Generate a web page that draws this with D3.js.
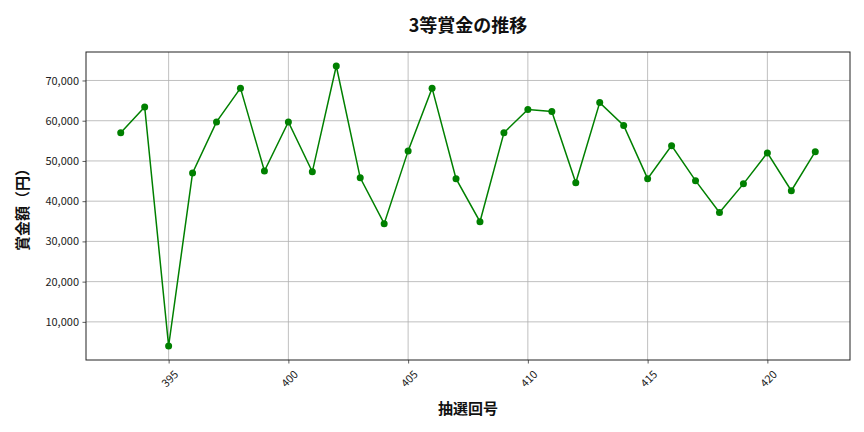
<!DOCTYPE html>
<html><head><meta charset="utf-8">
<script src="https://cdn.jsdelivr.net/npm/d3@7"></script>
<style>body{margin:0;background:#fff}svg{display:block}</style>
</head><body>
<svg id="c" width="864" height="432"></svg>
<script>
const draws = [393,394,395,396,397,398,399,400,401,402,403,404,405,406,407,408,409,410,411,412,413,414,415,416,417,418,419,420,421,422];
const prizes = [57000,63400,4000,47000,59700,68100,47500,59700,47300,73600,45800,34400,52500,68100,45600,34900,57000,62800,62300,44600,64500,58800,45600,53800,45100,37200,44300,52000,42600,52300];
const xTicks = [395,400,405,410,415,420];
const yTicks = [10000,20000,30000,40000,50000,60000,70000];
const title = "3等賞金の推移";
const xLabel = "抽選回号";
const yLabel = "賞金額（円）";

const svg = d3.select("#c");
const L = 86, R = 850, T = 52, B = 360;
const font = "'Noto Sans CJK JP', 'DejaVu Sans', sans-serif";
const xmin = d3.min(draws), xmax = d3.max(draws), xm = (xmax - xmin) * 0.05;
const ymin = d3.min(prizes), ymax = d3.max(prizes), ym = (ymax - ymin) * 0.05;
const x = d3.scaleLinear().domain([xmin - xm, xmax + xm]).range([L, R]);
const y = d3.scaleLinear().domain([ymin - ym, ymax + ym]).range([B, T]);

// grid
svg.append("g").selectAll("line").data(xTicks).join("line")
  .attr("x1", d => x(d)).attr("x2", d => x(d)).attr("y1", T).attr("y2", B)
  .attr("stroke", "#b0b0b0").attr("stroke-width", 0.8);
svg.append("g").selectAll("line").data(yTicks).join("line")
  .attr("x1", L).attr("x2", R).attr("y1", d => y(d)).attr("y2", d => y(d))
  .attr("stroke", "#b0b0b0").attr("stroke-width", 0.8);

// axes
const xAxis = svg.append("g").attr("transform", `translate(0,${B})`)
  .call(d3.axisBottom(x).tickValues(xTicks).tickSize(3.5).tickPadding(3).tickFormat(d3.format("d")));
xAxis.select(".domain").remove();
xAxis.selectAll("line").attr("stroke", "#333").attr("stroke-width", 0.8);
xAxis.selectAll("text").attr("font-family", font).attr("font-size", 11).attr("fill", "#222")
  .attr("text-anchor", "middle").attr("dominant-baseline", "central")
  .attr("y", 0).attr("dy", 0)
  .attr("transform", "translate(0,18) rotate(-45)");

const yAxis = svg.append("g").attr("transform", `translate(${L},0)`)
  .call(d3.axisLeft(y).tickValues(yTicks).tickSize(3.5).tickPadding(3.5).tickFormat(d3.format(",")));
yAxis.select(".domain").remove();
yAxis.selectAll("line").attr("stroke", "#333").attr("stroke-width", 0.8);
yAxis.selectAll("text").attr("font-family", font).attr("font-size", 11).attr("fill", "#222");

// frame
svg.append("rect").attr("x", L).attr("y", T).attr("width", R - L).attr("height", B - T)
  .attr("fill", "none").attr("stroke", "#222").attr("stroke-width", 1);

// line
const line = d3.line().x((d, i) => x(draws[i])).y(d => y(d));
svg.append("path").datum(prizes).attr("d", line).attr("fill", "none")
  .attr("stroke", "green").attr("stroke-width", 1.5);
svg.append("g").selectAll("circle").data(prizes).join("circle")
  .attr("cx", (d, i) => x(draws[i])).attr("cy", d => y(d)).attr("r", 3.5).attr("fill", "green");

// titles
svg.append("text").attr("x", (L + R) / 2).attr("y", 32).attr("text-anchor", "middle")
  .attr("font-family", font).attr("font-size", 18).attr("font-weight", "bold").attr("fill", "#111").text(title);
svg.append("text").attr("x", (L + R) / 2).attr("y", 414).attr("text-anchor", "middle")
  .attr("font-family", font).attr("font-size", 15).attr("font-weight", "bold").attr("fill", "#111").text(xLabel);
svg.append("text").attr("transform", `translate(28,${(T + B) / 2}) rotate(-90)`).attr("text-anchor", "middle")
  .attr("font-family", font).attr("font-size", 15).attr("font-weight", "bold").attr("fill", "#111").text(yLabel);
</script>
</body></html>
